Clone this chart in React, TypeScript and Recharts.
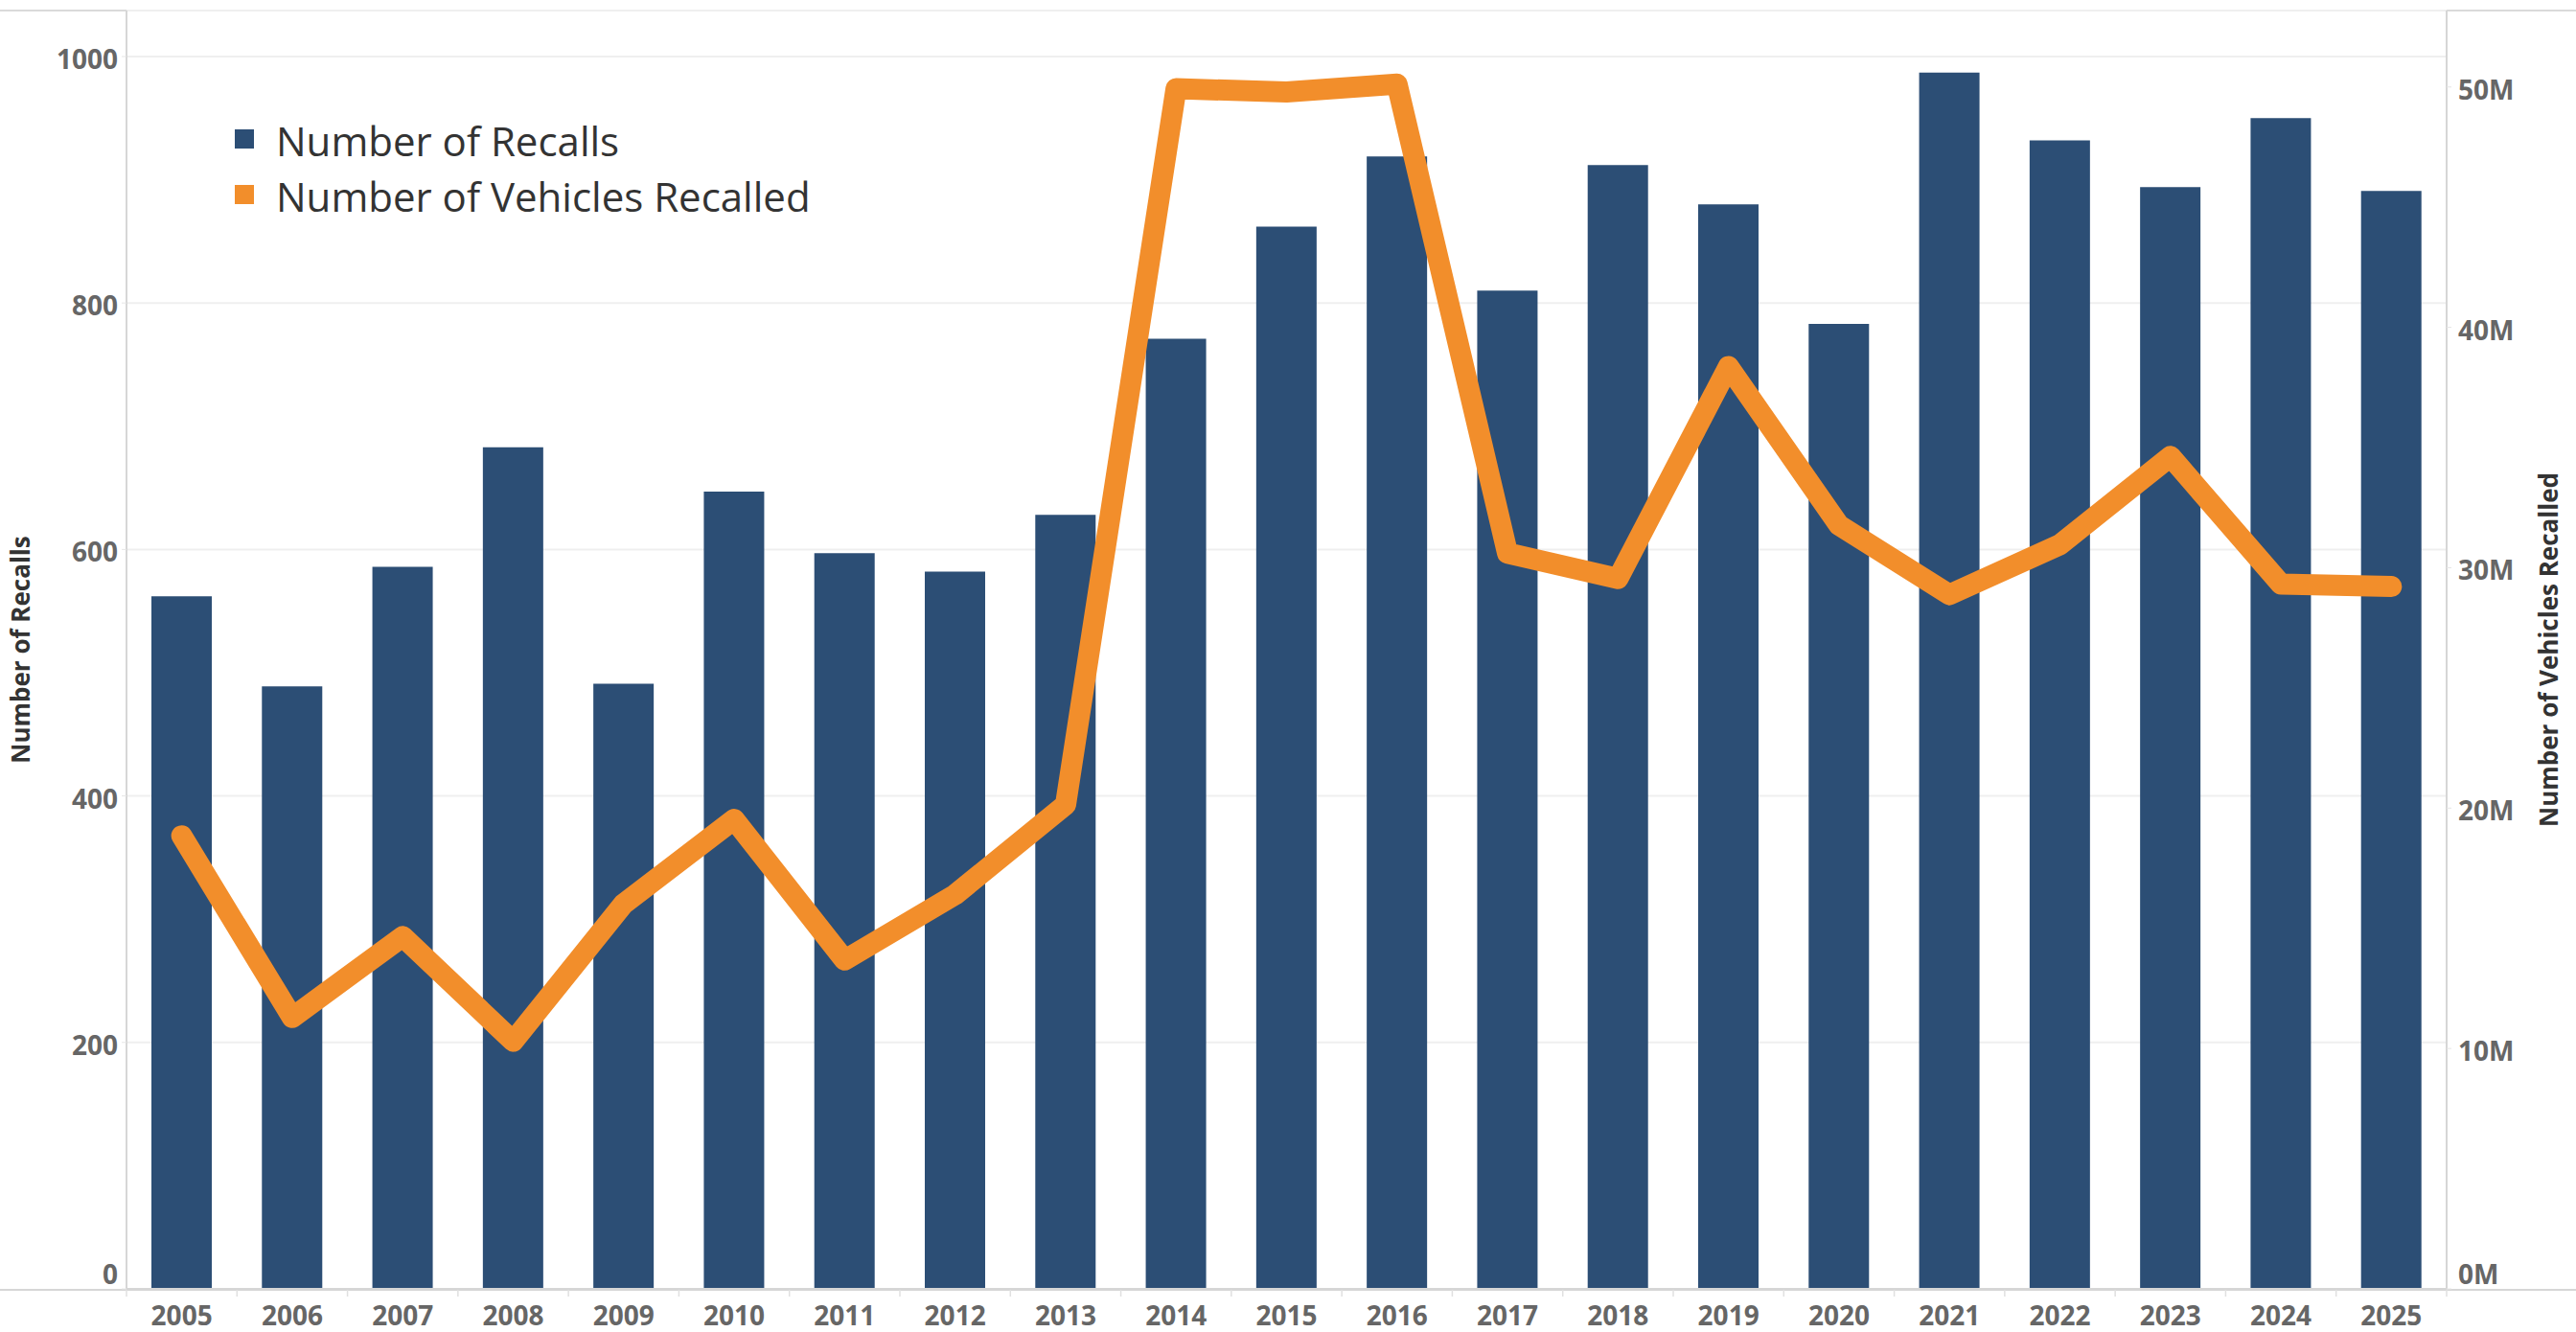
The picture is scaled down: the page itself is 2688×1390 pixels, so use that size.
import React from 'react'
import {
  ComposedChart,
  Bar,
  Line,
  XAxis,
  YAxis,
  CartesianGrid,
  Legend,
  Label,
} from 'recharts'

const W = 2688
const H = 1390
const LEFT_W = 132
const RIGHT_W = 135
const TOP = 11
const X_H = 45

const years = [
  '2005', '2006', '2007', '2008', '2009', '2010', '2011', '2012', '2013', '2014', '2015',
  '2016', '2017', '2018', '2019', '2020', '2021', '2022', '2023', '2024', '2025',
]

const recalls = [562, 489, 586, 683, 491, 647, 597, 582, 628, 771, 862, 919, 810, 912, 880, 783, 987, 932, 894, 950, 891]

const vehiclesRecalled = [
  18850000, 11290000, 14660000, 10300000, 16020000, 19530000, 13680000, 16400000, 20140000, 49930000, 49790000,
  50120000, 30610000, 29550000, 38370000, 31770000, 28880000, 30960000, 34630000, 29320000, 29220000,
]

const recallTicks = [0, 200, 400, 600, 800, 1000]
const vehicleTicks = [0, 10000000, 20000000, 30000000, 40000000, 50000000]

const legendItems = [
  { label: 'Number of Recalls', color: '#2c4e75' },
  { label: 'Number of Vehicles Recalled', color: '#f28e2b' },
]

const data = years.map((year, i) => ({
  year,
  recalls: recalls[i],
  vehicles: vehiclesRecalled[i],
}))

const FONT = '"Open Sans", sans-serif'
const TICK_COLOR = '#666666'
const band = (W - LEFT_W - RIGHT_W) / years.length

const YTick = (props: any) => {
  const { x, y, payload, anchor, fmt } = props
  return (
    <text
      x={x}
      y={y}
      dy={payload.value === 0 ? -16 : 2}
      textAnchor={anchor}
      dominantBaseline="central"
      fontFamily={FONT}
      fontSize={28}
      fontWeight={700}
      fill={TICK_COLOR}
    >
      {fmt(payload.value)}
    </text>
  )
}

const XTick = (props: any) => {
  const { x, y, payload, index } = props
  return (
    <g>
      <line x1={x - band / 2} x2={x - band / 2} y1={y + 1} y2={y + 8} stroke="#e0e0e0" strokeWidth={1.5} />
      {index === years.length - 1 && (
        <line x1={x + band / 2} x2={x + band / 2} y1={y + 1} y2={y + 8} stroke="#e0e0e0" strokeWidth={1.5} />
      )}
      <text
        x={x}
        y={y + 27}
        textAnchor="middle"
        dominantBaseline="central"
        fontFamily={FONT}
        fontSize={28}
        fontWeight={700}
        fill={TICK_COLOR}
      >
        {payload.value}
      </text>
    </g>
  )
}

const axisTitle = (text: string, cx: number) => (props: any) => {
  const vb = props.viewBox
  const cy = vb.y + vb.height / 2
  return (
    <text
      x={cx}
      y={cy}
      transform={`rotate(-90 ${cx} ${cy})`}
      textAnchor="middle"
      dominantBaseline="central"
      fontFamily={FONT}
      fontSize={26}
      fontWeight={700}
      fill="#333333"
    >
      {text}
    </text>
  )
}

const LegendBox = () => (
  <div style={{ fontFamily: FONT, whiteSpace: 'nowrap' }}>
    {legendItems.map((item) => (
      <div key={item.label} style={{ display: 'flex', alignItems: 'center', height: 58 }}>
        <span style={{ display: 'inline-block', width: 20, height: 20, background: item.color, marginRight: 23 }} />
        <span style={{ fontSize: 42, color: '#333333', lineHeight: '58px', position: 'relative', top: 2 }}>
          {item.label}
        </span>
      </div>
    ))}
  </div>
)

export default function App() {
  return (
    <div style={{ position: 'absolute', left: 0, top: 0, width: W, height: H, background: '#fff' }}>
      <div style={{ position: 'absolute', left: 0, top: TOP - 1, width: W, height: 2, background: '#dadada' }} />
      <div style={{ position: 'absolute', left: 0, top: H - X_H, width: W, height: 2, background: '#d6d6d6' }} />
      <ComposedChart
        width={W}
        height={H}
        data={data}
        margin={{ top: TOP, right: 0, bottom: 0, left: 0 }}
        style={{ position: 'absolute', left: 0, top: 0 }}
      >
        <CartesianGrid yAxisId="left" vertical={false} stroke="#efefef" strokeWidth={2} />
        <XAxis
          dataKey="year"
          height={X_H}
          tickSize={0}
          tickMargin={0}
          tickLine={false}
          axisLine={{ stroke: '#d6d6d6', strokeWidth: 2 }}
          tick={<XTick />}
          interval={0}
        />
        <YAxis
          yAxisId="left"
          width={LEFT_W}
          domain={[0, 1037.3]}
          ticks={recallTicks}
          tickSize={5}
          tickMargin={4}
          tickLine={{ stroke: '#e6e6e6' }}
          axisLine={{ stroke: '#d6d6d6', strokeWidth: 2 }}
          tick={<YTick anchor="end" fmt={(v: number) => String(v)} />}
          label={<Label content={axisTitle('Number of Recalls', 21)} />}
        />
        <YAxis
          yAxisId="right"
          orientation="right"
          width={RIGHT_W}
          domain={[0, 53180000]}
          ticks={vehicleTicks}
          tickSize={5}
          tickMargin={7}
          tickLine={{ stroke: '#e6e6e6' }}
          axisLine={{ stroke: '#d6d6d6', strokeWidth: 2 }}
          tick={<YTick anchor="start" fmt={(v: number) => `${v / 1000000}M`} />}
          label={<Label content={axisTitle('Number of Vehicles Recalled', 2659)} />}
        />
        <Legend
          layout="vertical"
          align="center"
          verticalAlign="middle"
          content={<LegendBox />}
          wrapperStyle={{ position: 'absolute', left: 245, top: 116, width: 'auto', height: 'auto' }}
        />
        <Bar
          yAxisId="left"
          dataKey="recalls"
          name="Number of Recalls"
          fill="#2c4e75"
          barSize={63}
          isAnimationActive={false}
        />
        <Line
          yAxisId="right"
          dataKey="vehicles"
          name="Number of Vehicles Recalled"
          type="linear"
          stroke="#f28e2b"
          strokeWidth={22}
          strokeLinejoin="round"
          strokeLinecap="round"
          dot={false}
          activeDot={false}
          isAnimationActive={false}
        />
      </ComposedChart>
    </div>
  )
}
